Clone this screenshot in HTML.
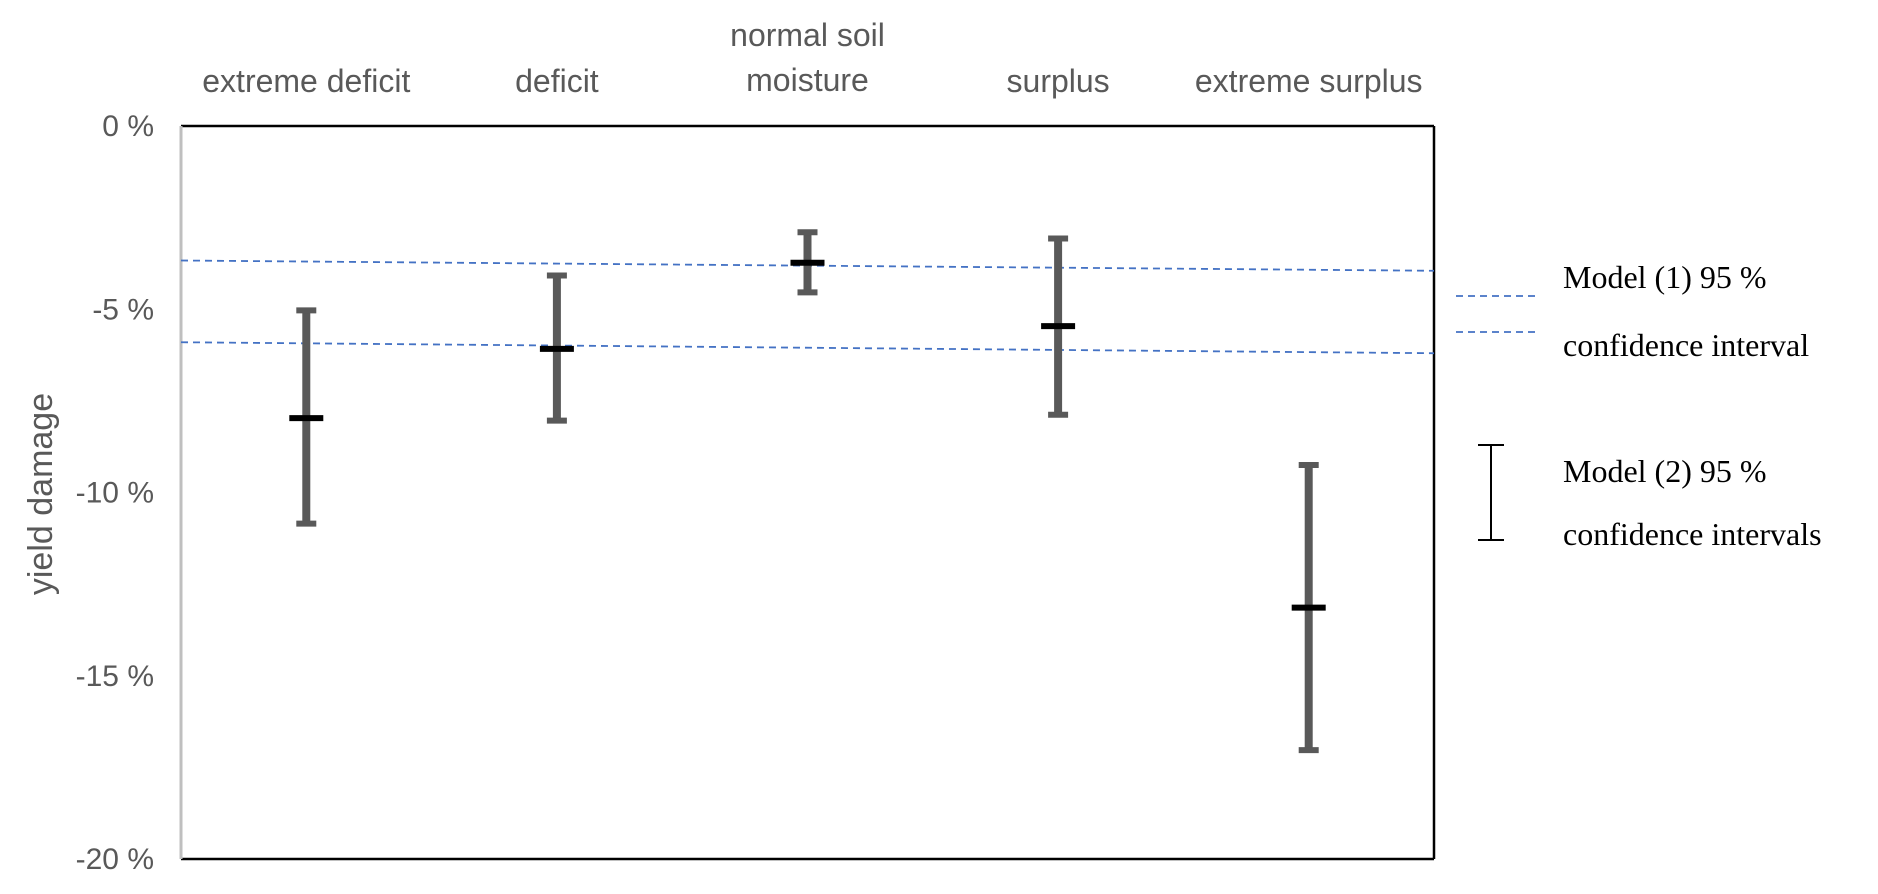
<!DOCTYPE html>
<html><head><meta charset="utf-8"><style>
body{margin:0;background:#fff;width:1878px;height:889px;overflow:hidden}
svg text{font-family:"Liberation Sans",sans-serif}
</style></head><body>
<svg id="chart" width="1878" height="889" xmlns="http://www.w3.org/2000/svg"></svg>
<script>
const categories=["extreme deficit","deficit","normal soil|moisture","surplus","extreme surplus"];
const centers=[-7.97,-6.08,-3.73,-5.46,-13.14];
const uppers=[-5.03,-4.08,-2.9,-3.07,-9.25];
const lowers=[-10.85,-8.04,-4.54,-7.88,-17.03];
const model1Upper=[-3.67,-3.95];
const model1Lower=[-5.9,-6.2];
const yTicks=[0,-5,-10,-15,-20];
const yTickLabels=["0 %","-5 %","-10 %","-15 %","-20 %"];

const svg=document.getElementById('chart');
const NS="http://www.w3.org/2000/svg";
const L=181,T=126,R=1434,B=859;
const y=v=>T+(0-v)/20*(B-T);
const band=(R-L)/categories.length;
const x=i=>L+band*(i+0.5);
function mk(tag,attrs,parent){const e=document.createElementNS(NS,tag);for(const k in attrs)e.setAttribute(k,attrs[k]);(parent||svg).appendChild(e);return e;}

let e=mk('line',{x1:L,y1:T,x2:R,y2:T,stroke:'#000','stroke-width':2.5});

e=mk('line',{x1:R,y1:T,x2:R,y2:B,stroke:'#000','stroke-width':2.5});

e=mk('line',{x1:L,y1:B,x2:R,y2:B,stroke:'#000','stroke-width':2.5});

e=mk('line',{x1:L,y1:T,x2:L,y2:B,stroke:'#bfbfbf','stroke-width':3});


yTicks.forEach((v,i)=>{
  const t=mk('text',{x:154,y:y(v)+10,'text-anchor':'end','font-size':30,fill:'#595959'});
  t.textContent=yTickLabels[i];
  
  
});
e=mk('text',{x:0,y:0,transform:'translate(52,494) rotate(-90)','text-anchor':'middle','font-size':34,fill:'#595959'});
e.textContent='yield damage';


categories.forEach((c,i)=>{
  const parts=c.split('|');
  parts.forEach((p,j)=>{
    const t=mk('text',{x:x(i),y:(parts.length==2?46+j*45:92),'text-anchor':'middle','font-size':32,fill:'#595959'});
    t.textContent=p;
    
    
  });
});

[model1Upper,model1Lower].forEach((arr,k)=>{
  const l=mk('line',{x1:L,y1:y(arr[0]),x2:R,y2:y(arr[1]),stroke:'#4472c4','stroke-width':1.8,'stroke-dasharray':'7,5'});
  
  
});

categories.forEach((c,i)=>{
  const cx=x(i);
  const g=mk('g',{});
  
  
  mk('line',{x1:cx,y1:y(uppers[i]),x2:cx,y2:y(lowers[i]),stroke:'#595959','stroke-width':8},g);
  mk('line',{x1:cx-10,y1:y(uppers[i]),x2:cx+10,y2:y(uppers[i]),stroke:'#595959','stroke-width':6},g);
  mk('line',{x1:cx-10,y1:y(lowers[i]),x2:cx+10,y2:y(lowers[i]),stroke:'#595959','stroke-width':6},g);
  const m=mk('line',{x1:cx-17,y1:y(centers[i]),x2:cx+17,y2:y(centers[i]),stroke:'#000','stroke-width':6});
  
  
});

const lg=mk('g',{});


mk('line',{x1:1456,y1:296,x2:1536,y2:296,stroke:'#4472c4','stroke-width':1.8,'stroke-dasharray':'7,5'},lg);
mk('line',{x1:1456,y1:332,x2:1536,y2:332,stroke:'#4472c4','stroke-width':1.8,'stroke-dasharray':'7,5'},lg);
[["Model (1) 95 %",288],["confidence interval",356],["Model (2) 95 %",482],["confidence intervals",545]].forEach(([s,yy])=>{
  const t=mk('text',{x:1563,y:yy,'font-size':32,fill:'#000'},lg);
  t.style.fontFamily='"Liberation Serif",serif';
  t.textContent=s;
  
  
});
mk('line',{x1:1491,y1:445,x2:1491,y2:540,stroke:'#000','stroke-width':2},lg);
mk('line',{x1:1478,y1:445,x2:1504,y2:445,stroke:'#000','stroke-width':2},lg);
mk('line',{x1:1478,y1:540,x2:1504,y2:540,stroke:'#000','stroke-width':2},lg);
</script>
</body></html>
